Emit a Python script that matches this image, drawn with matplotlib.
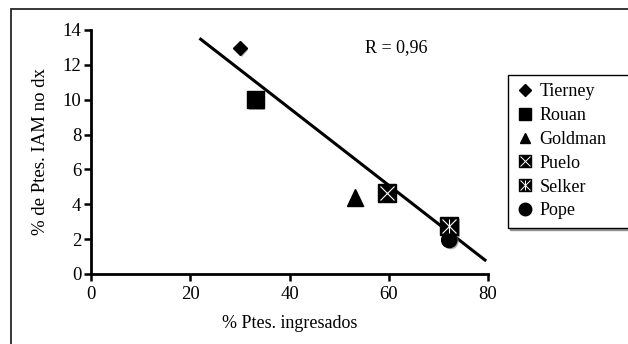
import matplotlib
matplotlib.use("Agg")
import matplotlib.pyplot as plt
import matplotlib.patheffects as pe
from matplotlib.patches import Rectangle

plt.rcParams['font.family'] = ['Liberation Serif', 'DejaVu Serif']

# data
names = ["Tierney", "Rouan", "Goldman", "Puelo", "Selker", "Pope"]
pct_ingresados = [30.0, 33.1, 53.2, 59.6, 72.2, 72.2]
pct_no_dx = [12.95, 10.0, 4.4, 4.66, 2.75, 1.95]
fit_x = [22.1, 79.4]
fit_y = [13.47, 0.8]
r_text = "R = 0,96"

fig = plt.figure(figsize=(6.28, 3.44), dpi=100)
ax = fig.add_axes([0.145, 0.2035, 0.632, 0.7093])

# outer frame
fig.patches.append(Rectangle((11 / 628, -0.2), 1.2, 0.2 + 1 - 9 / 344,
                             transform=fig.transFigure, fill=False,
                             edgecolor='0.15', linewidth=1.3))

ax.plot(fit_x, fit_y, color='black', linewidth=2.2, zorder=2)

shadow = [pe.SimplePatchShadow(offset=(1.2, -1.2), shadow_rgbFace='0.6', alpha=0.8), pe.Normal()]

styles = {
    "Tierney": dict(marker='D', ms=7),
    "Rouan": dict(marker='s', ms=12),
    "Goldman": dict(marker='^', ms=12),
    "Puelo": dict(marker='s', ms=13),
    "Selker": dict(marker='s', ms=13),
    "Pope": dict(marker='o', ms=11),
}
leg_sizes = {"Tierney": 6, "Rouan": 8, "Goldman": 7, "Puelo": 8.5, "Selker": 8.5, "Pope": 9}

handles = []
for name, x, y in zip(names, pct_ingresados, pct_no_dx):
    st = styles[name]
    ax.plot([x], [y], linestyle='none', marker=st['marker'], ms=st['ms'],
            color='black', zorder=3, path_effects=shadow)
    if name in ("Puelo", "Selker"):
        ax.plot([x], [y], linestyle='none', marker='x', ms=st['ms'] * 0.8,
                mew=0.8, color='white', zorder=4)
    if name == "Selker":
        ax.plot([x], [y], linestyle='none', marker='|', ms=st['ms'] * 0.8,
                mew=0.8, color='white', zorder=4)
    ls = leg_sizes[name]
    h = [plt.Line2D([], [], linestyle='none', marker=st['marker'], ms=ls, color='black')]
    if name in ("Puelo", "Selker"):
        h.append(plt.Line2D([], [], linestyle='none', marker='x', ms=ls * 0.85, mew=0.7, color='white'))
    if name == "Selker":
        h.append(plt.Line2D([], [], linestyle='none', marker='|', ms=ls * 0.85, mew=0.7, color='white'))
    handles.append(tuple(h))

ax.text(55.2, 13.0, r_text, fontsize=13, va='center', ha='left')

ax.set_xlim(0, 80)
ax.set_ylim(0, 14)
ax.set_xticks(range(0, 81, 20))
ax.set_yticks(range(0, 15, 2))
for s in ('top', 'right'):
    ax.spines[s].set_visible(False)
for s in ('left', 'bottom'):
    ax.spines[s].set_linewidth(2)
ax.tick_params(direction='out', length=5, width=1.8, labelsize=13.5)
ax.tick_params(axis='x', pad=4)
ax.tick_params(axis='y', pad=2)
ax.set_xlabel("% Ptes. ingresados", fontsize=13, labelpad=8)
ax.set_ylabel("% de Ptes. IAM no dx", fontsize=13.5, labelpad=10)

leg = fig.legend(handles, names, loc='upper left',
                 bbox_to_anchor=(508 / 628, 1 - 75 / 344, 0.25, 0), mode='expand',
                 frameon=True, fancybox=False, shadow={'color': '0.3', 'ox': 1.5, 'oy': -1.5},
                 fontsize=13, handlelength=1.0, handletextpad=0.3, labelspacing=0.38,
                 borderpad=0.45, borderaxespad=0)
leg.get_frame().set_edgecolor('black')
leg.get_frame().set_linewidth(1)

fig.savefig("out.png", dpi=100)
